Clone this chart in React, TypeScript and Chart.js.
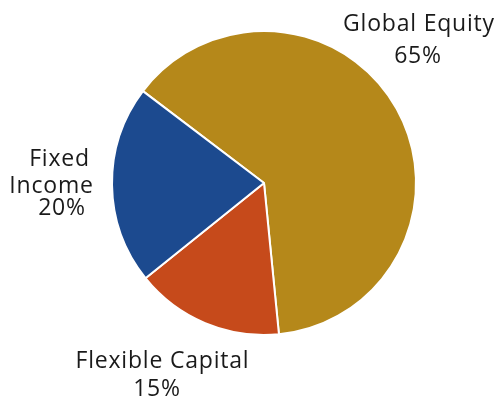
import React, { useEffect, useRef } from "react";
import { Chart, registerables } from "chart.js";

Chart.register(...registerables);

const categories = ["Global Equity", "Flexible Capital", "Fixed Income"];
const sliceValues = [63.1, 15.8, 21.1];
const shareLabels = ["65%", "15%", "20%"];
const sliceColors = ["#B5881A", "#C64A1B", "#1C4A8F"];

// label text lines per category, with anchor positions (px)
const labelLines: { idx: number; text: string; x: number; y: number }[] = [
  { idx: 0, text: "Global Equity", x: 419, y: 31 },
  { idx: 0, text: shareLabels[0], x: 418, y: 63 },
  { idx: 2, text: "Fixed", x: 59.5, y: 166 },
  { idx: 2, text: "Income", x: 51.5, y: 193 },
  { idx: 2, text: shareLabels[2], x: 62, y: 215 },
  { idx: 1, text: "Flexible Capital", x: 162.5, y: 368 },
  { idx: 1, text: shareLabels[1], x: 157, y: 396 },
];

const labelPlugin = {
  id: "outerLabels",
  afterDraw(chart: any) {
    const ctx = chart.ctx;
    ctx.save();
    ctx.fillStyle = "#1a1a1a";
    ctx.font = "23px 'Open Sans'";
    try {
      (ctx as any).letterSpacing = "0.8px";
    } catch (e) {}
    ctx.textAlign = "center";
    ctx.textBaseline = "alphabetic";
    for (const l of labelLines) {
      ctx.fillText(l.text, l.x, l.y);
    }
    ctx.restore();
  },
};

export default function App() {
  const ref = useRef<HTMLCanvasElement | null>(null);
  useEffect(() => {
    if (!ref.current) return;
    const chart = new Chart(ref.current, {
      type: "pie",
      data: {
        labels: categories,
        datasets: [
          {
            data: sliceValues,
            backgroundColor: sliceColors,
            borderColor: "#ffffff",
            borderWidth: 2,
          },
        ],
      },
      options: {
        responsive: false,
        animation: false,
        rotation: -52.8,
        radius: 152,
        layout: { padding: { left: 112, right: 86, top: 31, bottom: 64 } },
        plugins: {
          legend: { display: false },
          tooltip: { enabled: false },
        },
      },
      plugins: [labelPlugin],
    });
    return () => chart.destroy();
  }, []);
  return (
    <div style={{ position: "absolute", left: 0, top: 0, width: 502, height: 399, background: "#fff" }}>
      <canvas ref={ref} width={502} height={399} />
    </div>
  );
}
